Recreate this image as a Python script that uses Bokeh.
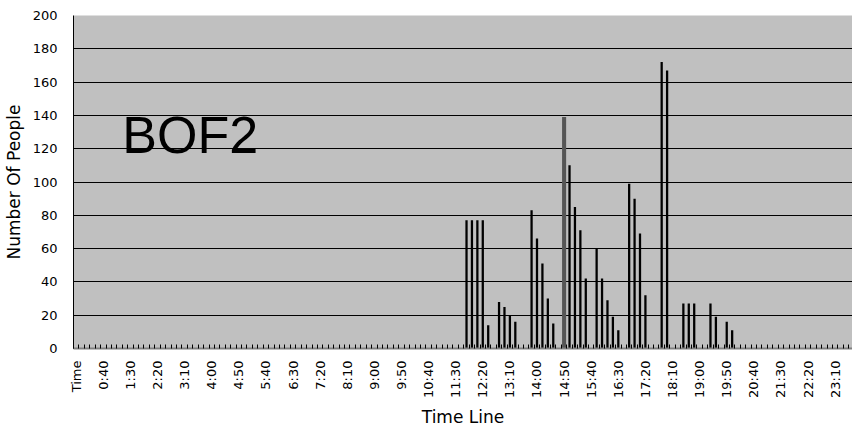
import math
from bokeh.plotting import figure
from bokeh.models import Range1d, FixedTicker, Label, ColumnDataSource
from bokeh.embed import file_html
from bokeh.resources import INLINE

# ---- data ----
# category axis: a header slot "Time" followed by 10-minute slots of the day
slot_labels = ["Time"] + [f"{m // 60}:{m % 60:02d}" for m in range(0, 1440, 10)]
label_every = 5

bar_slots = ["11:50", "12:00", "12:10", "12:20", "12:30",
             "12:50", "13:00", "13:10", "13:20",
             "13:50", "14:00", "14:10", "14:20", "14:30",
             "14:50", "15:00", "15:10", "15:20", "15:30",
             "15:50", "16:00", "16:10", "16:20", "16:30",
             "16:50", "17:00", "17:10", "17:20",
             "17:50", "18:00",
             "18:30", "18:40", "18:50",
             "19:20", "19:30", "19:50", "20:00"]
bar_counts = [77, 77, 77, 77, 14,
              28, 25, 20, 16,
              83, 66, 51, 30, 15,
              139, 110, 85, 71, 42,
              60, 42, 29, 19, 11,
              99, 90, 69, 32,
              172, 167,
              27, 27, 27,
              27, 19, 16, 11]
highlight_slot = "14:50"
y_ticks = [0, 20, 40, 60, 80, 100, 120, 140, 160, 180, 200]
title_text = "BOF2"

# ---- build source ----
xs = [slot_labels.index(s) for s in bar_slots]
colors = ["#555555" if s == highlight_slot else "black" for s in bar_slots]
widths = [0.75 if s == highlight_slot else 0.42 for s in bar_slots]
src = ColumnDataSource(dict(x=xs, top=bar_counts, color=colors, w=widths))

p = figure(width=852, height=430,
           x_range=Range1d(-0.5, 143.2), y_range=Range1d(0, 200),
           output_backend="svg", toolbar_location=None,
           background_fill_color="#C0C0C0", border_fill_color="white",
           min_border_left=73, min_border_right=0,
           min_border_top=15, min_border_bottom=82)
p.outline_line_color = None

p.vbar(x="x", top="top", width="w", bottom=0, source=src,
       fill_color="color", line_color=None)

# grid
p.xgrid.grid_line_color = None
p.ygrid.ticker = FixedTicker(ticks=y_ticks)
p.ygrid.grid_line_color = "black"
p.ygrid.grid_line_width = 1

# y axis
p.yaxis.ticker = FixedTicker(ticks=y_ticks)
p.yaxis.axis_line_color = "black"
p.yaxis.major_tick_in = 0
p.yaxis.major_tick_out = 0
p.yaxis.minor_tick_line_color = None
p.yaxis.major_label_standoff = 16
p.yaxis.major_label_text_font = "DejaVu Sans"
p.yaxis.major_label_text_font_size = "13px"
p.yaxis.major_label_text_color = "black"
p.yaxis.axis_label = "Number Of People"
p.yaxis.axis_label_text_font = "DejaVu Sans"
p.yaxis.axis_label_text_font_size = "17px"
p.yaxis.axis_label_text_font_style = "normal"
p.yaxis.axis_label_text_color = "black"
p.yaxis.axis_label_standoff = 6

# x axis
n = len(slot_labels)
major = list(range(0, n, label_every))
p.xaxis.ticker = FixedTicker(ticks=major,
                             minor_ticks=[i - 0.5 for i in range(n + 1)])
p.xaxis.major_label_overrides = {i: slot_labels[i] for i in major}
p.xaxis.major_label_orientation = math.pi / 2
p.xaxis.axis_line_color = "#808080"
p.xaxis.axis_line_width = 2
p.xaxis.major_tick_in = 0
p.xaxis.major_tick_out = 0
p.xaxis.minor_tick_in = 4
p.xaxis.minor_tick_out = 0
p.xaxis.minor_tick_line_color = "black"
p.xaxis.major_label_standoff = 12
p.xaxis.major_label_text_font = "DejaVu Sans"
p.xaxis.major_label_text_font_size = "13px"
p.xaxis.major_label_text_color = "black"
p.xaxis.axis_label = "Time Line"
p.xaxis.axis_label_text_font = "DejaVu Sans"
p.xaxis.axis_label_text_font_size = "17px"
p.xaxis.axis_label_text_font_style = "normal"
p.xaxis.axis_label_text_color = "black"
p.xaxis.axis_label_standoff = 6

p.add_layout(Label(x=8.5, y=128, text=title_text,
                   text_font="Liberation Sans", text_font_size="52px",
                   text_align="left", text_baseline="alphabetic",
                   text_color="black"))

open("out.html", "w").write(file_html(p, INLINE))
